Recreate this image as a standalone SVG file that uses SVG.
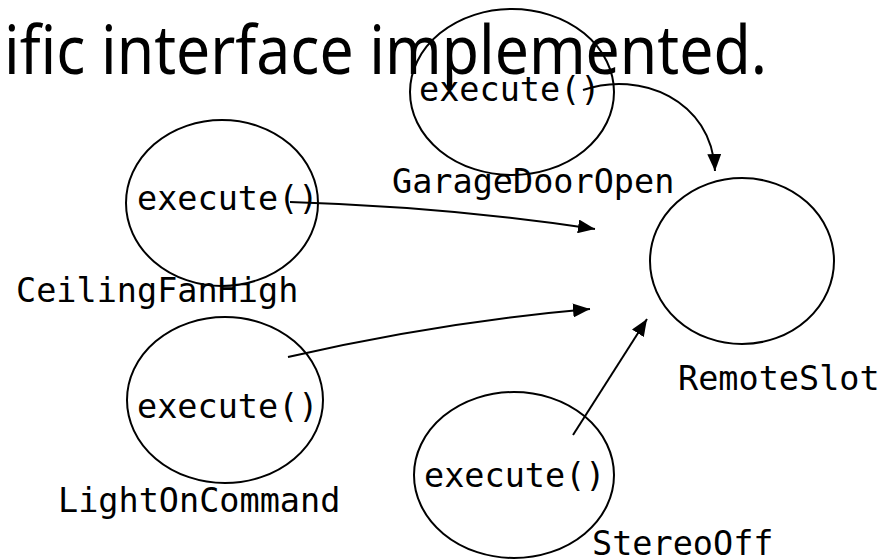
<svg xmlns="http://www.w3.org/2000/svg" width="889" height="559" viewBox="0 0 889 559">
<style>
.node ellipse{fill:none;stroke:#000;stroke-width:2}
.mono{font-family:"DejaVu Sans Mono","Liberation Mono",monospace;font-size:33.5px;fill:#000}
.title{font-family:"Noto Sans","Open Sans",sans-serif;font-size:67px;fill:#000}
.conn path{fill:none;stroke:#000;stroke-width:2}
</style>
<defs>
<marker id="arr" markerUnits="userSpaceOnUse" markerWidth="18" markerHeight="14" refX="17" refY="7" orient="auto">
<path d="M0,0 L17,7 L0,14 Z" fill="#000"/>
</marker>
</defs>
<rect width="889" height="559" fill="#fff"/>
<text class="title" x="4" y="74" textLength="763" lengthAdjust="spacingAndGlyphs">ific interface implemented.</text>
<g id="garage" class="node">
<ellipse cx="512" cy="92" rx="102" ry="83"/>
<text class="mono" x="419" y="101">execute()</text>
<text class="mono" x="392" y="193">GarageDoorOpen</text>
</g>
<g id="ceiling" class="node">
<ellipse cx="222" cy="203" rx="96" ry="83"/>
<text class="mono" x="137" y="210">execute()</text>
<text class="mono" x="16" y="302">CeilingFanHigh</text>
</g>
<g id="lighton" class="node">
<ellipse cx="225" cy="400" rx="98" ry="83"/>
<text class="mono" x="137" y="418">execute()</text>
<text class="mono" x="58" y="512">LightOnCommand</text>
</g>
<g id="stereo" class="node">
<ellipse cx="514" cy="475" rx="100" ry="83"/>
<text class="mono" x="424" y="487">execute()</text>
<text class="mono" x="592" y="555">StereoOff</text>
</g>
<g id="remote" class="node">
<ellipse cx="742" cy="261" rx="92" ry="83"/>
<text class="mono" x="678" y="390">RemoteSlot</text>
</g>
<g id="connectors" class="conn">
<path d="M583,90 C640,70 712,100 715,171" marker-end="url(#arr)"/>
<path d="M290,202 Q450,207 595,229" marker-end="url(#arr)"/>
<path d="M288,357 Q440,322 590,309" marker-end="url(#arr)"/>
<path d="M573,435 L647,319" marker-end="url(#arr)"/>
</g>
</svg>
